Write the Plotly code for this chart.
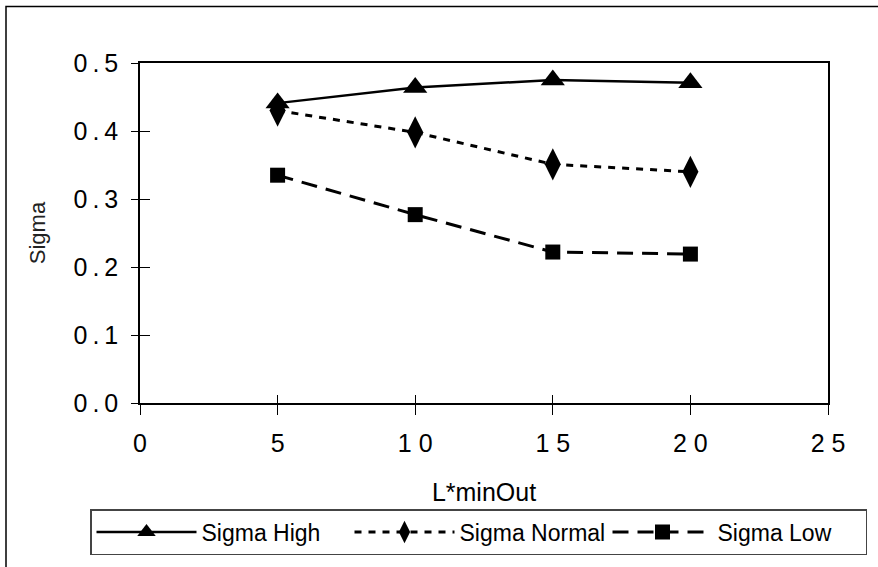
import plotly.graph_objects as go

x_vals = [5, 10, 15, 20]
sigma_high = [0.441, 0.464, 0.475, 0.471]
sigma_normal = [0.430, 0.398, 0.351, 0.340]
sigma_low = [0.335, 0.277, 0.222, 0.219]

x_tick_vals = [0, 5, 10, 15, 20, 25]
x_tick_text = ["0", "5", "1 0", "1 5", "2 0", "2 5"]
y_tick_vals = [0.0, 0.1, 0.2, 0.3, 0.4, 0.5]
y_tick_text = ["0\u2009.\u20090", "0\u2009.\u20091", "0\u2009.\u20092",
               "0\u2009.\u20093", "0\u2009.\u20094", "0\u2009.\u20095"]

FONT = "Liberation Sans, Arial, sans-serif"

fig = go.Figure()
fig.add_trace(go.Scatter(x=x_vals, y=sigma_high, name="Sigma High", mode="lines+markers",
                         line=dict(color="black", width=2.5),
                         marker=dict(symbol="triangle-up", size=21, color="black")))
fig.add_trace(go.Scatter(x=x_vals, y=sigma_normal, name="Sigma Normal", mode="lines+markers",
                         line=dict(color="black", width=3, dash="7px,7px"),
                         marker=dict(symbol="diamond-tall", size=23, color="black")))
fig.add_trace(go.Scatter(x=x_vals, y=sigma_low, name="Sigma Low", mode="lines+markers",
                         line=dict(color="black", width=3, dash="16px,9px"),
                         marker=dict(symbol="square", size=15, color="black")))
# helper trace for inner tick marks (crossing ticks)
fig.add_trace(go.Scatter(x=[None], y=[None], xaxis="x2", yaxis="y2", showlegend=False,
                         hoverinfo="skip"))

W, H = 878, 567
ml, mr, mt, mb = 140, 50, 63, 161
pw, ph = W - ml - mr, H - mt - mb

def px_x(p):
    return (p - ml) / pw

def px_y(p):
    return (H - mb - p) / ph

fig.update_layout(
    width=W, height=H,
    margin=dict(l=ml, r=mr, t=mt, b=mb),
    paper_bgcolor="white", plot_bgcolor="white",
    font=dict(family=FONT, color="black", size=25),
    xaxis=dict(range=[0, 25], tickvals=x_tick_vals, ticktext=x_tick_text, automargin=False,
               showgrid=False, zeroline=False, showline=True, linecolor="black", linewidth=1.5,
               mirror=True, ticks="outside", ticklen=10, tickwidth=1, tickcolor="black",
               tickfont=dict(size=25), ticklabelstandoff=7,
               title=dict(text="L*minOut", font=dict(size=25), standoff=28)),
    yaxis=dict(range=[0, 0.5], tickvals=y_tick_vals, ticktext=y_tick_text, automargin=False,
               showgrid=False, zeroline=False, showline=True, linecolor="black", linewidth=1.5,
               mirror=True, ticks="outside", ticklen=7, tickwidth=1, tickcolor="black",
               tickfont=dict(size=25), ticklabelstandoff=8,
               title=dict(text="Sigma", font=dict(size=22, family="Liberation Sans Narrow, Arial Narrow, sans-serif",
                                                  color="#222"),
                          standoff=22)),
    xaxis2=dict(overlaying="x", matches="x", anchor="y2", side="bottom", range=[0, 25],
                tickvals=x_tick_vals, showticklabels=False, showgrid=False, zeroline=False,
                showline=False, ticks="inside", ticklen=8, tickwidth=1, tickcolor="black"),
    yaxis2=dict(overlaying="y", matches="y", anchor="x2", side="left", range=[0, 0.5],
                tickvals=y_tick_vals, showticklabels=False, showgrid=False, zeroline=False,
                showline=False, ticks="inside", ticklen=10, tickwidth=1, tickcolor="black"),
    legend=dict(orientation="h",
                x=px_x(90), xanchor="left", y=px_y(513), yanchor="top",
                bordercolor="#444", borderwidth=1.5, bgcolor="white",
                font=dict(size=23), itemwidth=100, entrywidth=143, tracegroupgap=0),
    showlegend=True,
    shapes=[dict(type="rect", xref="paper", yref="paper",
                 x0=px_x(6), x1=px_x(W + 20), y0=px_y(H + 20), y1=px_y(6),
                 line=dict(color="black", width=1.5), layer="below")],
)

fig.write_html("out.html")
